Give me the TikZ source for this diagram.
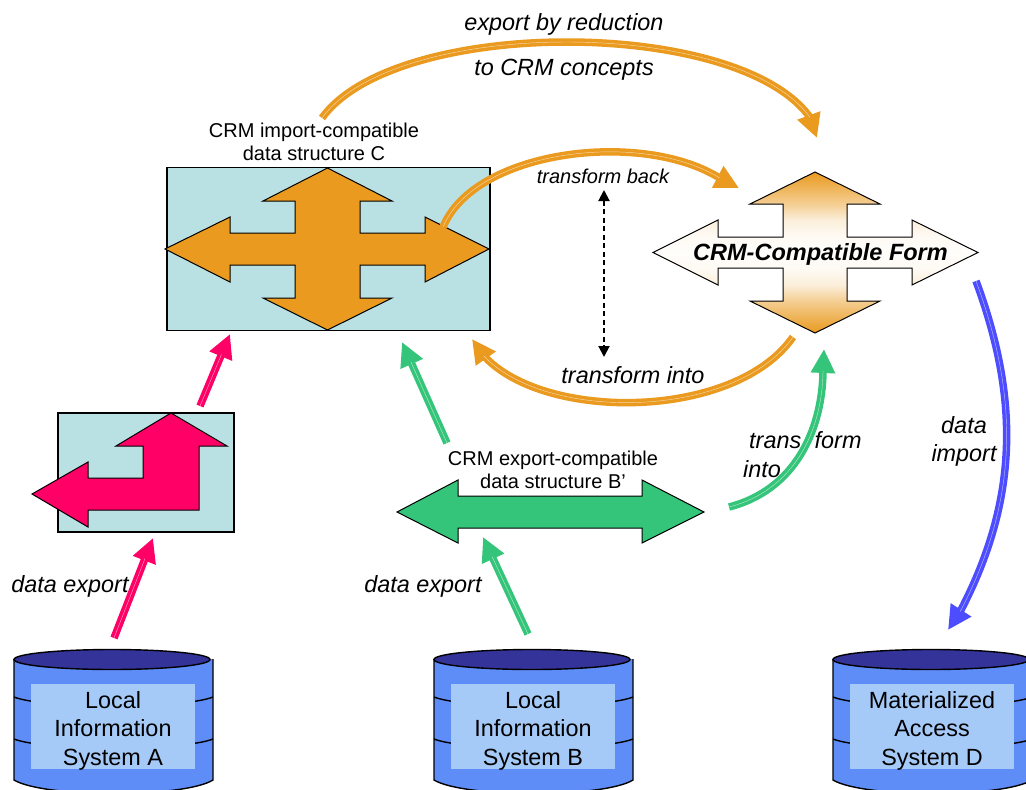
\documentclass[tikz,border=0pt]{standalone}
\usepackage{fontspec}
\setmainfont{Liberation Sans}
\usetikzlibrary{arrows.meta}
\definecolor{orangeA}{HTML}{E99A1F}
\definecolor{pinkA}{HTML}{FF0066}
\definecolor{greenA}{HTML}{35C57A}
\definecolor{blueA}{HTML}{4D4DFF}
\definecolor{tealA}{HTML}{B9E0E3}
\definecolor{cylBody}{HTML}{5F8DF7}
\definecolor{cylTop}{HTML}{333399}
\definecolor{cylInner}{HTML}{A6CAF8}
\pgfdeclareverticalshading{formshade}{100bp}{
  color(0bp)=(orangeA); color(25bp)=(orangeA);
  color(35bp)=(orangeA!48!white); color(40bp)=(orangeA!16!white); color(45bp)=(orangeA!5!white); color(50bp)=(orangeA!2!white);
  color(55bp)=(orangeA!5!white); color(60bp)=(orangeA!16!white); color(65bp)=(orangeA!48!white); color(75bp)=(orangeA); color(100bp)=(orangeA)}
\tikzset{
  flowarrow/.style={draw=#1,line width=7.5pt,line cap=butt,
    -{Triangle[length=24pt,width=23pt,fill=#1]},
    postaction={draw=white,draw opacity=0.6,line width=0.45pt,-,shorten >=22pt}},
  shapeline/.style={draw=black,line width=1pt,line join=miter},
  boxfill/.style={draw=black,line width=1.2pt,fill=tealA,inner sep=0pt,outer sep=0pt},
  labelbig/.style={inner sep=0pt,align=center,font=\fontsize{23.4}{28.5}\selectfont},
  labelsmall/.style={inner sep=0pt,align=center,font=\fontsize{20}{23}\selectfont},
  labelit/.style={inner sep=0pt,align=center,yshift=-2.5pt,font=\fontsize{23.4}{28}\selectfont\itshape},
  cylline/.style={draw=black,line width=1.4pt},
  cylpanel/.style={fill=cylInner,inner sep=0pt,minimum width=164pt,minimum height=85pt},
  dashedlink/.style={draw=black,line width=2pt,dash pattern=on 5pt off 3.5pt,
    {Triangle[length=11pt,width=11pt]}-{Triangle[length=11pt,width=11pt]}},
}
\begin{document}
\begin{tikzpicture}[x=1pt,y=-1pt]
\useasboundingbox (0,0) rectangle (1026,790);
% cylinders
\foreach \xo/\nm/\txt in {14/sysA/{Local\\Information\\System A},434/sysB/{Local\\Information\\System B},833/sysD/{Materialized\\Access\\System D}}{
  \path[fill=cylBody] (\xo,659) -- (\xo+199,659) -- (\xo+199,780)
     .. controls (\xo+170,798) and (\xo+30,798) .. (\xo,780) -- cycle;
  \draw[cylline] (\xo+199,659) -- (\xo+199,780)
     .. controls (\xo+170,798) and (\xo+30,798) .. (\xo,780) -- (\xo,659);
  \draw[cylline] (\xo,697) .. controls (\xo+30,709) and (\xo+169,709) .. (\xo+199,697);
  \draw[cylline] (\xo,739) .. controls (\xo+30,751) and (\xo+169,751) .. (\xo+199,739);
  \draw[cylline,fill=cylTop] (\xo+98,659.5) ellipse [x radius=98,y radius=10];
  \node[cylpanel] (\nm) at (\xo+99,726.5) {};
  \node[labelbig] (\nm txt) at (\xo+99,730.5) {\txt};
}
% box C with cross arrow
\node[boxfill,minimum width=323pt,minimum height=163pt] (boxC) at (328.5,249) {};
\draw[shapeline,fill=orangeA] (327.5,168) -- (392,201) -- (360,201) -- (360,233) -- (425,233) -- (425,217)
  -- (489,249) -- (425,282) -- (425,265) -- (360,265) -- (360,298) -- (392,298) -- (327.5,330)
  -- (263,298) -- (295,298) -- (295,265) -- (230,265) -- (230,282) -- (165,249) -- (230,217)
  -- (230,233) -- (295,233) -- (295,201) -- (263,201) -- cycle;
% box A with bent arrow
\node[boxfill,minimum width=176pt,minimum height=119pt] (boxA) at (146,472.5) {};
\draw[shapeline,fill=pinkA] (171,413) -- (227,446) -- (199,446) -- (199,510) -- (88,510) -- (88,527)
  -- (32,494) -- (88,462) -- (88,478) -- (143,478) -- (143,446) -- (116,446) -- cycle;
% green double arrow
\draw[shapeline,fill=greenA] (397,512) -- (458,480) -- (458,496) -- (642,496) -- (642,480) -- (704,512)
  -- (642,543) -- (642,528) -- (458,528) -- (458,543) -- cycle;
% CRM-compatible form
\draw[shapeline,shading=formshade]
  (815,172) -- (880,204) -- (847,204) -- (847,237) -- (912,237) -- (912,220) -- (978,252.5)
  -- (912,285) -- (912,268) -- (847,268) -- (847,301) -- (880,301) -- (815,333) -- (750,301)
  -- (783,301) -- (783,268) -- (718,268) -- (718,285) -- (653,252.5) -- (718,220) -- (718,237)
  -- (783,237) -- (783,204) -- (750,204) -- cycle;
% connector ends
\coordinate (expS) at (322,118);
\coordinate (expM) at (809,116);
\coordinate (expT) at (817,138);
\coordinate (backS) at (443,227);
\coordinate (backM) at (718,177);
\coordinate (backT) at (739,188);
\coordinate (intoS) at (793,337);
\coordinate (intoM) at (484,356);
\coordinate (intoT) at (472,339);
\coordinate (greenS) at (729,507);
\coordinate (greenM) at (823,372);
\coordinate (greenT) at (824,349);
\coordinate (greenLS) at (447,443);
\coordinate (greenLT) at (402,342);
\coordinate (greenBS) at (528,634);
\coordinate (greenBT) at (483,537);
\coordinate (pinkTS) at (200,406);
\coordinate (pinkTT) at (230,334);
\coordinate (pinkBS) at (114,638);
\coordinate (pinkBT) at (153,538);
\coordinate (blueS) at (976,281);
\coordinate (blueM) at (961,610);
\coordinate (blueT) at (948,630);
\coordinate (dashT) at (604,190);
\coordinate (dashB) at (604,357);
% connectors
\draw[flowarrow=orangeA] (expS) .. controls (395,17) and (735,17) .. (expM) -- (expT);
\draw[flowarrow=orangeA] (backS) .. controls (475,150) and (640,130) .. (backM) -- (backT);
\draw[flowarrow=orangeA] (intoS) .. controls (735,420) and (545,422) .. (intoM) -- (intoT);
\draw[flowarrow=greenA] (greenS) .. controls (795,490) and (822,430) .. (greenM) -- (greenT);
\draw[flowarrow=greenA] (greenLS) -- (greenLT);
\draw[flowarrow=greenA] (greenBS) -- (greenBT);
\draw[flowarrow=pinkA] (pinkTS) -- (pinkTT);
\draw[flowarrow=pinkA] (pinkBS) -- (pinkBT);
\draw[flowarrow=blueA] (blueS) .. controls (1020,400) and (1018,500) .. (blueM) -- (blueT);
\draw[dashedlink] (dashT) -- (dashB);
% labels
\node[labelit] (lExp1) at (564,22) {export by reduction};
\node[labelit] (lExp2) at (564,67) {to CRM concepts};
\node[labelsmall] (lC) at (314,142) {CRM import-compatible\\data structure C};
\node[labelsmall,font=\fontsize{20}{23}\selectfont\itshape] (lBack) at (603,176) {transform back};
\node[labelit] (lInto) at (633,373) {transform into};
\node[labelit,anchor=west] (lTr) at (749,438) {trans\hspace{7pt} form};
\node[labelit,anchor=west] (lTr2) at (743,467) {into};
\node[labelsmall] (lB) at (553,469.5) {CRM export-compatible\\data structure B’};
\node[labelit] (lImp) at (964,439) {data\\import};
\node[labelit] (lDa) at (70,584) {data export};
\node[labelit] (lDb) at (423,584) {data export};
\node[inner sep=0pt,yshift=-1pt,font=\fontsize{23.5}{28}\selectfont\bfseries\itshape] (lForm) at (820.5,253) {CRM-Compatible Form};
\end{tikzpicture}
\end{document}
